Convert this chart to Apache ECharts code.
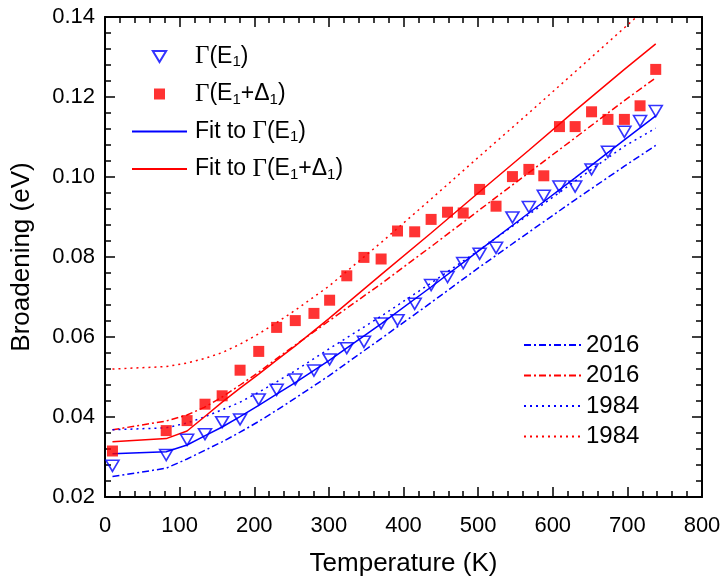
<!DOCTYPE html>
<html>
<head>
<meta charset="utf-8">
<script src="https://cdn.jsdelivr.net/npm/echarts@6/dist/echarts.min.js"></script>
<style>
html,body{margin:0;padding:0;background:#fff;}
#chart{width:727px;height:582px;}
</style>
</head>
<body>
<div id="chart"></div>
<script>
// ---- data ----
const temps = [10, 82, 110, 134, 157, 181, 206, 230, 255, 280, 301, 324, 347, 370, 392, 415, 437, 459, 480, 502, 524, 546, 568, 588, 609, 630, 652, 674, 696, 717, 738];
const gammaE1 = [0.0278, 0.0305, 0.0343, 0.0357, 0.0387, 0.0394, 0.0444, 0.0468, 0.0494, 0.0516, 0.0544, 0.0572, 0.0588, 0.0634, 0.0642, 0.0683, 0.0730, 0.0750, 0.0785, 0.0808, 0.0823, 0.0899, 0.0925, 0.0953, 0.0976, 0.0976, 0.1019, 0.1063, 0.1113, 0.1140, 0.1165];
const gammaE1D1 = [0.0315, 0.0366, 0.0391, 0.0432, 0.0453, 0.0517, 0.0564, 0.0624, 0.0641, 0.0659, 0.0692, 0.0753, 0.0799, 0.0795, 0.0865, 0.0863, 0.0894, 0.0912, 0.0910, 0.0969, 0.0927, 0.1001, 0.1019, 0.1003, 0.1126, 0.1126, 0.1163, 0.1144, 0.1144, 0.1178, 0.1269];

const curveT = [10, 82, 110, 133, 157, 181, 206, 230, 255, 300, 370, 437, 502, 568, 630, 696, 738];
const fitE1 = [0.0308, 0.0313, 0.0330, 0.0352, 0.0375, 0.0401, 0.0429, 0.0457, 0.0486, 0.0541, 0.0633, 0.0725, 0.0817, 0.0910, 0.0998, 0.1093, 0.1153];
const fitE1D1 = [0.0338, 0.0346, 0.0365, 0.0400, 0.0437, 0.0472, 0.0507, 0.0542, 0.0578, 0.0646, 0.0756, 0.0860, 0.0963, 0.1067, 0.1166, 0.1269, 0.1333];
const e1_2016 = [0.0251, 0.0272, 0.0295, 0.0316, 0.0338, 0.0362, 0.0389, 0.0417, 0.0447, 0.0503, 0.0596, 0.0686, 0.0775, 0.0862, 0.0943, 0.1027, 0.1079];
const e1d1_2016 = [0.0368, 0.0390, 0.0405, 0.0424, 0.0450, 0.0480, 0.0512, 0.0546, 0.0580, 0.0640, 0.0733, 0.0826, 0.0918, 0.1011, 0.1098, 0.1191, 0.1248];
const e1_1984 = [0.0368, 0.0373, 0.0385, 0.0400, 0.0418, 0.0437, 0.0462, 0.0488, 0.0516, 0.0570, 0.0652, 0.0735, 0.0818, 0.0906, 0.0990, 0.1077, 0.1122];
const e1d1_1984 = [0.0520, 0.0526, 0.0535, 0.0546, 0.0561, 0.0582, 0.0608, 0.0636, 0.0667, 0.0727, 0.0836, 0.0945, 0.1052, 0.1160, 0.1263, 0.1373, 0.1443];

const xTicks = {min: 0, max: 800, step: 100};
const yTicks = {min: 0.02, max: 0.14, step: 0.02};

// ---- build ----
const pairs = (xs, ys) => xs.map((x, i) => [x, ys[i]]);
const BLUE = '#0000ff', RED = '#ff0000';
const SANS = 'Liberation Sans, Arial, sans-serif';
const SERIF = 'Liberation Serif, Times New Roman, serif';
const DASHDOT = [7, 3, 2, 3];
const DOT = [2, 4];
const NONE = 'rgba(0,0,0,0)';

const legendLabels = {
  gE1: '{p|}{g|Γ}{t|(E}{s|1}{t|)}',
  gE1D1: '{p|}{g|Γ}{t|(E}{s|1}{t|+Δ}{s|1}{t|)}',
  fitE1: '{p|}{t|Fit to }{g|Γ}{t|(E}{s|1}{t|)}',
  fitE1D1: '{p|}{t|Fit to }{g|Γ}{t|(E}{s|1}{t|+Δ}{s|1}{t|)}',
  b2016: '2016', r2016: '2016', b1984: '1984', r1984: '1984'
};

function axisCommon(extra) {
  return Object.assign({
    type: 'value',
    axisLine: {show: true, onZero: false, lineStyle: {color: '#000', width: 2}},
    axisTick: {show: true, inside: true, length: 10, lineStyle: {color: '#000', width: 1.5}},
    minorTick: {show: true, splitNumber: 5, length: 6, lineStyle: {color: '#000', width: 1.5}},
    splitLine: {show: false},
    minorSplitLine: {show: false}
  }, extra);
}

function lineSeries(name, ys, color, type) {
  return {
    name: name, type: 'line', data: pairs(curveT, ys), showSymbol: false, symbol: 'circle',
    lineStyle: {color: color, width: 1.5, type: type}, itemStyle: {color: NONE, borderColor: NONE, borderWidth: 0},
    clip: true, silent: true, animation: false, z: 2
  };
}

const option = {
  animation: false,
  backgroundColor: '#fff',
  grid: {left: 105, right: 25, top: 17, bottom: 85, containLabel: false},
  xAxis: [
    axisCommon({position: 'bottom', min: xTicks.min, max: xTicks.max, interval: xTicks.step,
      axisLabel: {color: '#000', fontSize: 22, fontFamily: SANS, margin: 18},
      name: 'Temperature (K)', nameLocation: 'middle', nameGap: 54,
      nameTextStyle: {color: '#000', fontSize: 26, fontFamily: SANS}}),
    axisCommon({position: 'top', min: xTicks.min, max: xTicks.max, interval: xTicks.step,
      axisLabel: {show: false}})
  ],
  yAxis: [
    axisCommon({position: 'left', min: yTicks.min, max: yTicks.max, interval: yTicks.step,
      axisLabel: {color: '#000', fontSize: 22, fontFamily: SANS, margin: 10,
        formatter: v => v.toFixed(2)},
      name: 'Broadening (eV)', nameLocation: 'middle', nameGap: 70,
      nameTextStyle: {color: '#000', fontSize: 26, fontFamily: SANS}}),
    axisCommon({position: 'right', min: yTicks.min, max: yTicks.max, interval: yTicks.step,
      axisLabel: {show: false}})
  ],
  legend: [
    {
      data: [
        {name: 'gE1', icon: 'path://M0,0L2,0L1,1.65Z'},
        {name: 'gE1D1', icon: 'path://M0,0L1,0L1,1L0,1Z'},
        'fitE1', 'fitE1D1'
      ],
      orient: 'vertical', left: 131, top: 44, padding: 0, symbolRotate: 0,
      itemWidth: 55, itemHeight: 11, itemGap: 12, selectedMode: false, symbolKeepAspect: true,
      formatter: n => legendLabels[n],
      textStyle: {
        color: '#000', fontFamily: SANS, fontSize: 23,
        rich: {
          p: {width: 3, lineHeight: 26},
          t: {fontFamily: SANS, fontSize: 23, color: '#000', lineHeight: 26},
          g: {fontFamily: SERIF, fontSize: 25, color: '#000', lineHeight: 26},
          s: {fontFamily: SANS, fontSize: 15, color: '#000', lineHeight: 15, verticalAlign: 'bottom'}
        }
      }
    },
    {
      data: ['b2016', 'r2016', 'b1984', 'r1984'],
      orient: 'vertical', left: 523, top: 333, padding: 0,
      itemWidth: 57, itemHeight: 12, itemGap: 6.5, selectedMode: false,
      formatter: n => legendLabels[n],
      textStyle: {color: '#000', fontFamily: SANS, fontSize: 24, lineHeight: 24}
    }
  ],
  series: [
    lineSeries('b2016', e1_2016, BLUE, DASHDOT),
    lineSeries('r2016', e1d1_2016, RED, DASHDOT),
    lineSeries('b1984', e1_1984, BLUE, DOT),
    lineSeries('r1984', e1d1_1984, RED, DOT),
    lineSeries('fitE1', fitE1, BLUE, 'solid'),
    lineSeries('fitE1D1', fitE1D1, RED, 'solid'),
    {
      name: 'gE1D1', type: 'scatter', data: pairs(temps, gammaE1D1),
      symbol: 'rect', symbolSize: 11, itemStyle: {color: RED}, z: 4, silent: true
    },
    {
      name: 'gE1', type: 'scatter', data: pairs(temps, gammaE1),
      symbol: 'triangle', symbolRotate: 180, symbolSize: [13, 11],
      itemStyle: {color: NONE, borderColor: BLUE, borderWidth: 1.6}, z: 5, silent: true
    }
  ]
};

const chart = echarts.init(document.getElementById('chart'), null, {renderer: 'canvas'});
chart.setOption(option);
</script>
</body>
</html>
